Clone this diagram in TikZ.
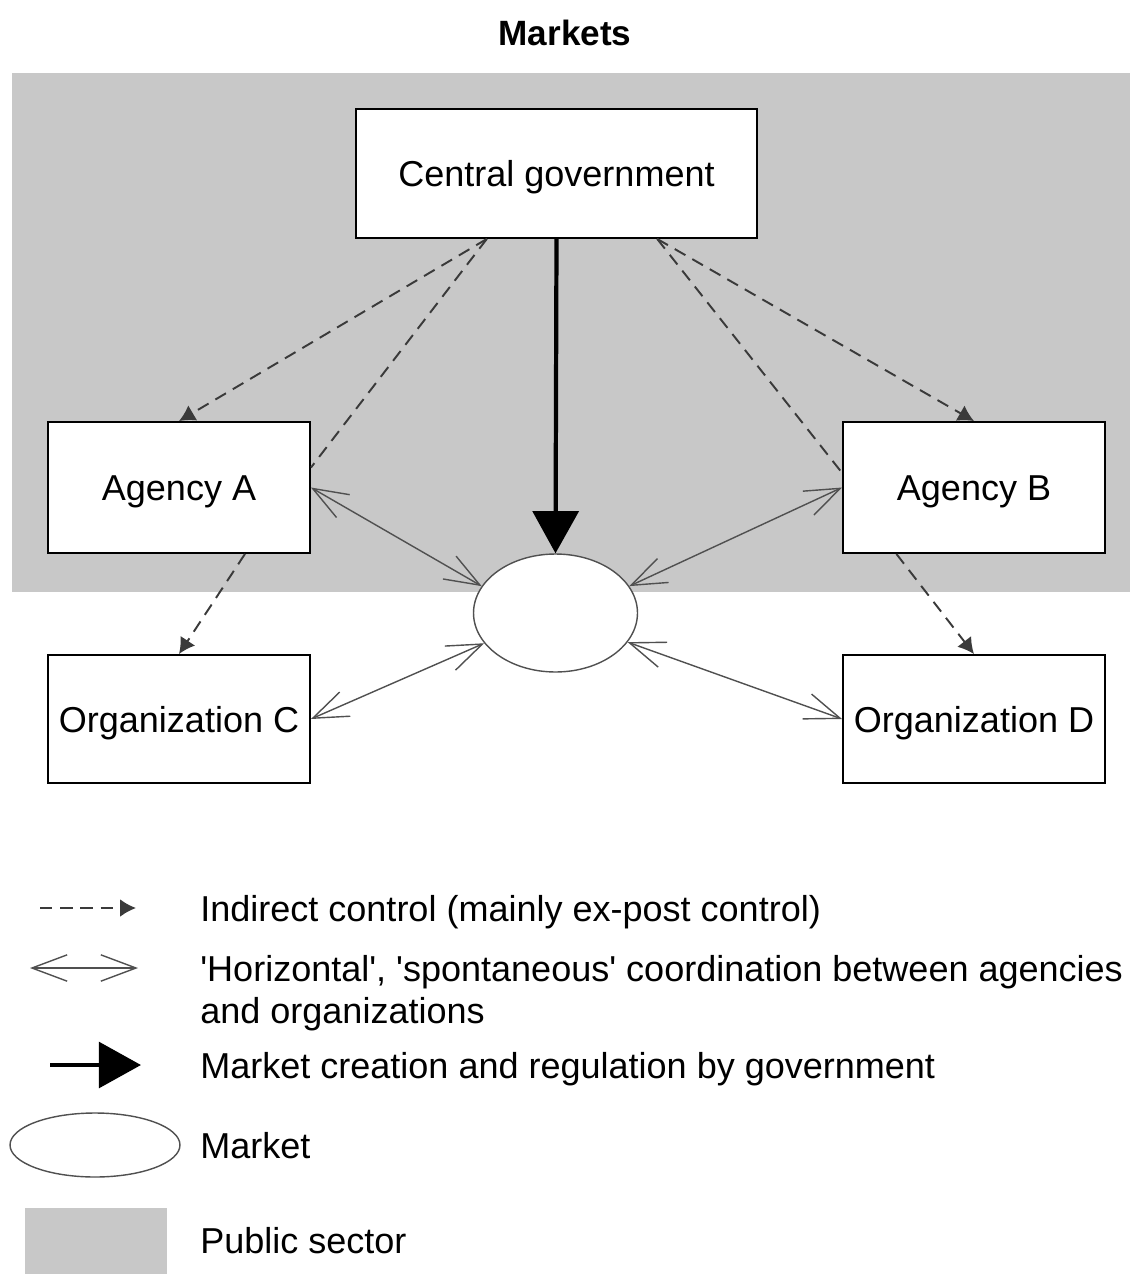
\documentclass[tikz,border=0pt]{standalone}
\usepackage{fontspec}
\setmainfont{Liberation Sans}
\usetikzlibrary{arrows.meta,shapes.geometric,calc}
\definecolor{pubgray}{HTML}{C8C8C8}
\definecolor{lnk}{HTML}{505050}
\definecolor{dsh}{HTML}{3A3A3A}
\begin{document}
\begin{tikzpicture}[x=0.02cm,y=-0.02cm,
  box/.style={draw=black,line width=1.1pt,fill=white,inner sep=0pt,rectangle,text height=14.8pt,text depth=0pt,font=\fontsize{20.5}{24}\selectfont},
  ctrl/.style={dsh,line width=1.1pt,dash pattern=on 7pt off 4.5pt,-{Latex[length=9pt,width=10pt]}},
  ctrlline/.style={dsh,line width=1.1pt,dash pattern=on 7pt off 4.5pt},
  coordarr/.style={lnk,line width=0.8pt,{Straight Barb[length=20pt,width=15pt,line width=0.8pt]}-{Straight Barb[length=20pt,width=15pt,line width=0.8pt]}},
  regul/.style={black,line width=2.4pt,-{Triangle[length=24pt,width=26pt]}},
  mkt/.style={ellipse,draw=lnk,line width=0.8pt,fill=white,inner sep=0pt},
  legtext/.style={anchor=west,inner sep=0pt,text height=14.8pt,text depth=0pt,font=\fontsize{20.5}{24}\selectfont}
]
\useasboundingbox (0,0) rectangle (1130,1274);
% public sector
\fill[pubgray] (12,73) rectangle (1130,592);
% title
\node[font=\bfseries\fontsize{20}{24}\selectfont,text height=14.3pt,text depth=0pt,inner sep=0pt] (title) at (565,33) {Markets};
% nodes
\node[box,minimum width=8.02cm,minimum height=2.58cm] (cg) at (556.5,173.5) {Central government};
\node[box,minimum width=5.24cm,minimum height=2.62cm] (aa) at (179,487.5) {Agency A};
\node[box,minimum width=5.24cm,minimum height=2.62cm] (ab) at (974,487.5) {Agency B};
\node[box,minimum width=5.24cm,minimum height=2.56cm] (oc) at (179,719) {Organization C};
\node[box,minimum width=5.24cm,minimum height=2.56cm] (od) at (974,719) {Organization D};
\node[mkt,minimum width=3.28cm,minimum height=2.36cm] (m) at (555.5,613) {};
% control arrows
\coordinate (cgl) at ($(cg.south west)!0.327!(cg.south east)$);
\coordinate (cgr) at ($(cg.south west)!0.75!(cg.south east)$);
\draw[ctrl] (cgl) -- (aa.north);
\draw[ctrlline] (cgl) -- ($(aa.north east)!0.35!(aa.south east)$);
\draw[ctrl] (cgr) -- (ab.north);
\draw[ctrlline] (cgr) -- ($(ab.north west)!0.39!(ab.south west)$);
\draw[ctrl] ($(aa.south west)!0.75!(aa.south east)$) -- (oc.north);
\draw[ctrl] ($(ab.south west)!0.206!(ab.south east)$) -- (od.north);
% coordination
\draw[coordarr] (aa.east) -- (m.160);
\draw[coordarr] (ab.west) -- (m.20);
\draw[coordarr] (oc.east) -- (m.203);
\draw[coordarr] (od.west) -- (m.338);
% regulation
\draw[regul] (cg.south) -- (m.north);
% legend
\coordinate (l1a) at (40,908); \coordinate (l1b) at (136,908);
\draw[ctrl] (l1a) -- (l1b);
\node[legtext] (t1) at (200,908) {Indirect control (mainly ex-post control)};
\coordinate (l2a) at (30,968); \coordinate (l2b) at (138,968);
\draw[coordarr] (l2a) -- (l2b);
\node[legtext] (t2) at (200,968) {\textquotesingle Horizontal\textquotesingle, \textquotesingle spontaneous\textquotesingle{} coordination between agencies};
\node[legtext] (t2b) at (200,1010) {and organizations};
\coordinate (l3a) at (50,1065); \coordinate (l3b) at (141,1065);
\draw[regul] (l3a) -- (l3b);
\node[legtext] (t3) at (200,1065) {Market creation and regulation by government};
\node[mkt,minimum width=3.4cm,minimum height=1.28cm] (lm) at (95,1145) {};
\node[legtext] (t4) at (200,1145) {Market};
\fill[pubgray] (25,1208) rectangle (167,1274);
\node[legtext] (t5) at (200,1240) {Public sector};
\end{tikzpicture}
\end{document}
